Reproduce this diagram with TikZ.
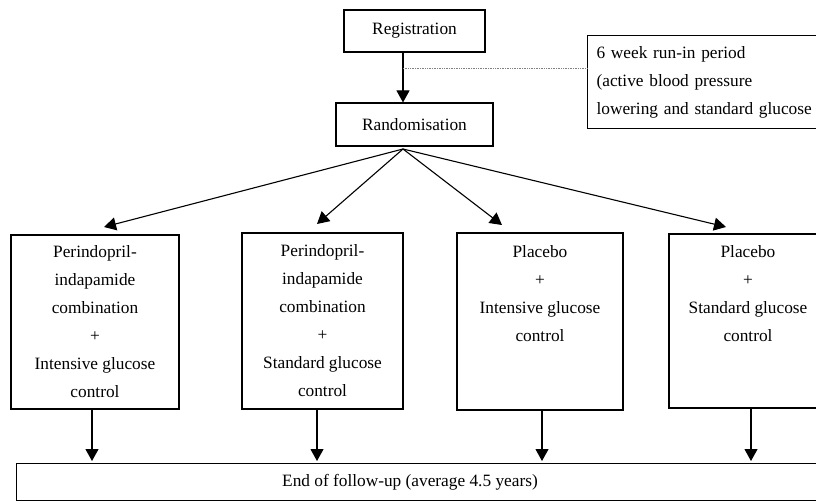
\documentclass[tikz,border=0pt]{standalone}
\usepackage{fontspec}
\setmainfont{Liberation Serif}
\usetikzlibrary{arrows.meta,calc}
\begin{document}
\begin{tikzpicture}[x=1pt,y=-1pt,
  box/.style={draw,line width=1.1pt,inner sep=0pt,align=center,
    font=\fontsize{17.3}{28}\selectfont},
  arr/.style={line width=1.1pt,-{Triangle[length=12pt,width=13pt]}},
  dots/.style={densely dotted,line width=0.7pt,gray}]
\clip (0,0) rectangle (816,502);
\fill[white] (0,0) rectangle (816,502);
% top boxes
\node[box,minimum width=141pt,minimum height=42pt] (reg) at (414.5,31) {Registration};
\node[box,minimum width=157pt,minimum height=43pt] (rand) at (414.5,124.5) {Randomisation};
\node[box,anchor=north west,minimum width=250pt,minimum height=93pt,
  text width=232pt,align=left,inner xsep=9pt] (runin) at (587,35)
  {6 week run-in period\\(active blood pressure\\lowering and standard glucose};
\coordinate (fan) at (403,149);
\coordinate (dl) at (403,68);
\draw[arr] (reg.south -| fan) -- (rand.north -| fan);
\draw[dots] (dl) -- (dl -| runin.west);
% treatment boxes
\node[box,minimum width=168pt,minimum height=174pt] (b1) at (95,322)
  {Perindopril-\\indapamide\\combination\\+\\Intensive glucose\\control};
\node[box,minimum width=161pt,minimum height=176pt] (b2) at (322.5,321)
  {Perindopril-\\indapamide\\combination\\+\\Standard glucose\\control};
\node[box,minimum width=166pt,minimum height=177pt] (b3) at (540,321.5)
  {Placebo\\+\\Intensive glucose\\control\\\mbox{}\\\mbox{}};
\node[box,minimum width=158pt,minimum height=174pt] (b4) at (748,321)
  {Placebo\\+\\Standard glucose\\control\\\mbox{}\\\mbox{}};
% fan arrows
\coordinate (t1) at (104,227);
\coordinate (t2) at (317,224);
\coordinate (t3) at (502,225);
\coordinate (t4) at (726,227);
\foreach \t in {t1,t2,t3,t4} \draw[arr] (fan) -- (\t);
% end box
\node[box,anchor=north west,minimum width=814pt,minimum height=37pt] (end) at (16,463) {};
\node[font=\fontsize{17.3}{28}\selectfont,inner sep=0pt] (endtxt) at (410,482)
  {End of follow-up (average 4.5 years)};
% down arrows
\coordinate (d1) at (92,461);
\coordinate (d2) at (317,461);
\coordinate (d3) at (542,461);
\coordinate (d4) at (751,461);
\draw[arr] (b1.south -| d1) -- (d1);
\draw[arr] (b2.south -| d2) -- (d2);
\draw[arr] (b3.south -| d3) -- (d3);
\draw[arr] (b4.south -| d4) -- (d4);
\end{tikzpicture}
\end{document}
